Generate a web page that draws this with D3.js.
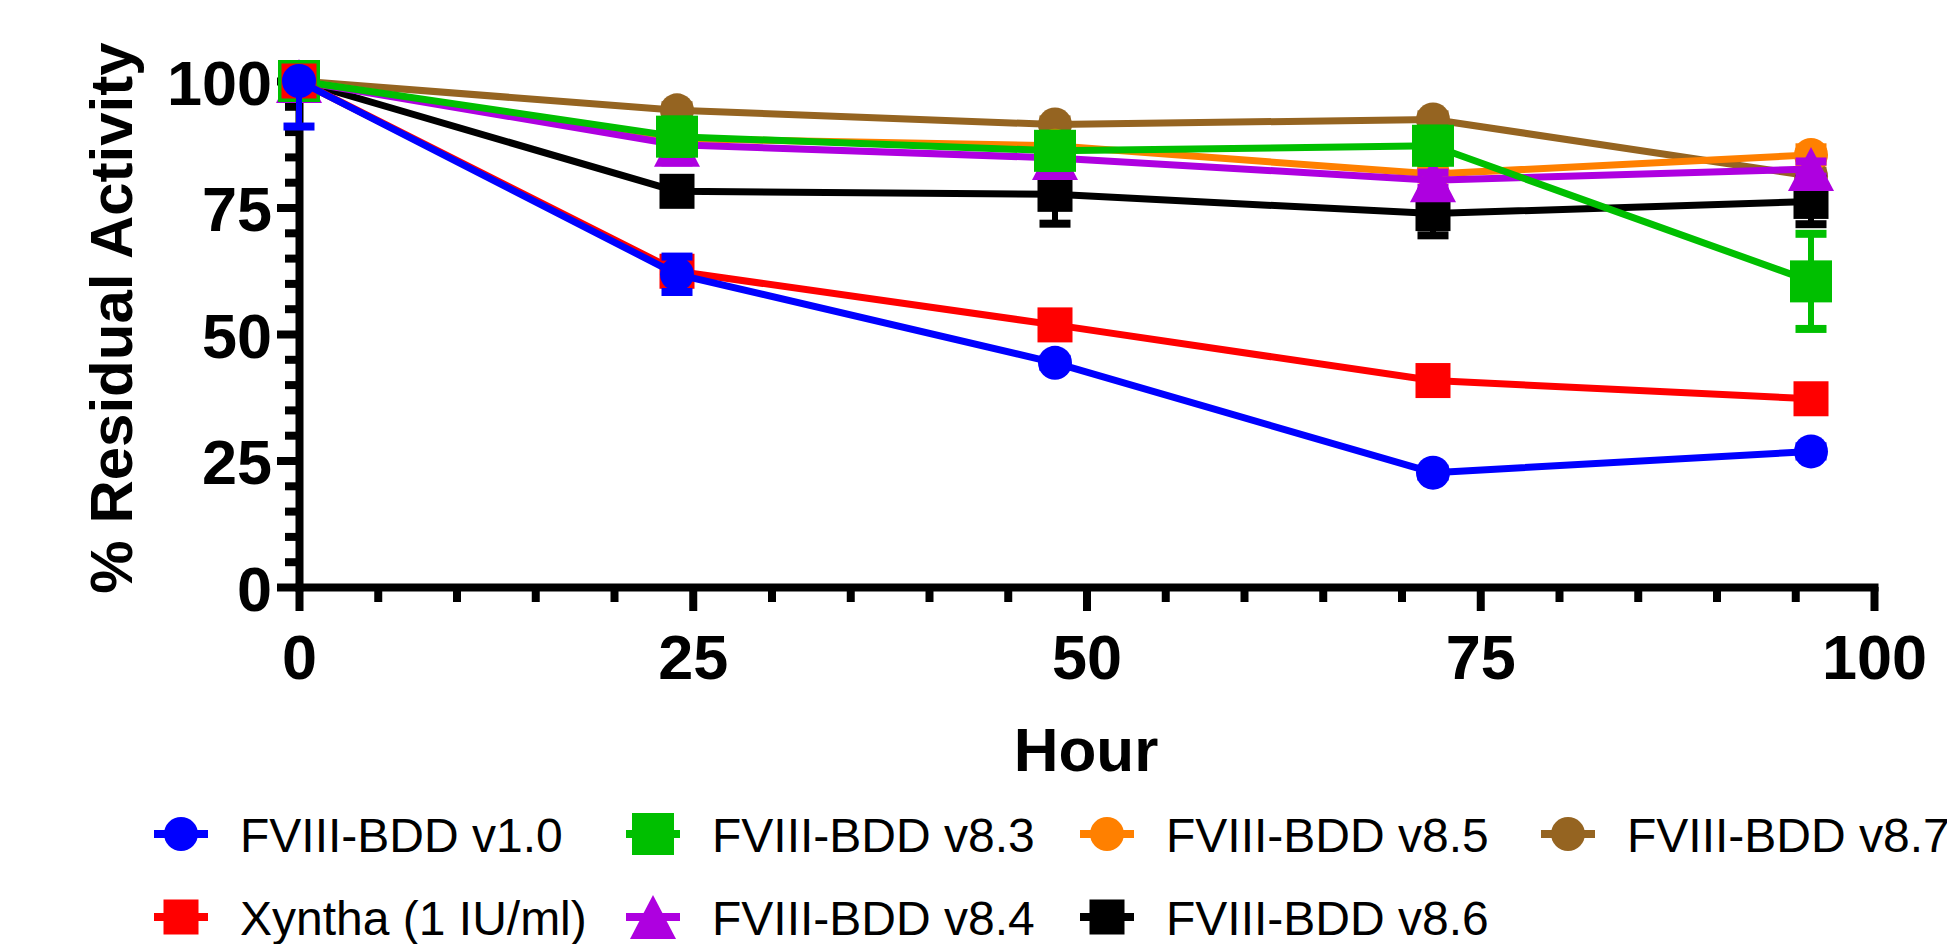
<!DOCTYPE html>
<html>
<head>
<meta charset="utf-8">
<script src="https://cdn.jsdelivr.net/npm/d3@7"></script>
<style>
  html, body { margin: 0; padding: 0; background: #fff; overflow: hidden; }
  text { font-family: "Liberation Sans", Arial, sans-serif; }
</style>
</head>
<body>
<svg id="chart"></svg>
<script>
// ---- data ----
const hours = [0, 24, 48, 72, 96];
const seriesNames = ['FVIII-BDD v1.0', 'Xyntha (1 IU/ml)', 'FVIII-BDD v8.3', 'FVIII-BDD v8.4',
                     'FVIII-BDD v8.5', 'FVIII-BDD v8.6', 'FVIII-BDD v8.7'];
const v10     = [100, 61.8, 44.3, 22.6, 26.8];
const v10Err  = [9, 3.5, 0.8, 0.8, 1];
const xyntha    = [100, 62.4, 51.8, 40.8, 37.2];
const xynthaErr = [1, 1, 0.8, 0.8, 1];
const v83     = [100, 89.0, 86.2, 87.2, 60.4];
const v83Err  = [1, 3.4, 3.4, 3.4, 9.4];
const v84     = [100, 87.4, 84.8, 80.4, 82.6];
const v84Err  = [1, 3.5, 3.5, 1.5, 1.5];
const v85     = [100, 88.6, 87.2, 81.6, 85.4];
const v85Err  = [0.5, 1, 1, 1, 1.5];
const v86     = [100, 78.2, 77.6, 73.8, 76.2];
const v86Err  = [1, 1, 5.8, 4.3, 4.5];
const v87     = [100, 94.2, 91.4, 92.4, 81.2];
const v87Err  = [0.5, 1, 1, 1, 1];
const xMajorTicks = [0, 25, 50, 75, 100];
const yMajorTicks = [0, 25, 50, 75, 100];

const width = 1947, height = 944;

const series = [
  { name: seriesNames[0], values: v10,    err: v10Err,    color: '#0000ff', shape: 'circle' },
  { name: seriesNames[1], values: xyntha, err: xynthaErr, color: '#ff0000', shape: 'square' },
  { name: seriesNames[2], values: v83,    err: v83Err,    color: '#00bf00', shape: 'bigsquare' },
  { name: seriesNames[3], values: v84,    err: v84Err,    color: '#ae00e0', shape: 'triangle' },
  { name: seriesNames[4], values: v85,    err: v85Err,    color: '#ff8000', shape: 'circle' },
  { name: seriesNames[5], values: v86,    err: v86Err,    color: '#000000', shape: 'square' },
  { name: seriesNames[6], values: v87,    err: v87Err,    color: '#956421', shape: 'circle' }
];

const svg = d3.select('#chart').attr('width', width).attr('height', height);

const x = d3.scaleLinear().domain([0, 100]).range([299, 1874]);
const y = d3.scaleLinear().domain([0, 100]).range([587, 81]);

const xMinor = d3.range(5, 100, 5).filter(d => d % 25 !== 0);
const yMinor = d3.range(5, 100, 5).filter(d => d % 25 !== 0);

function styleAxis(g) {
  g.selectAll('line, path').attr('stroke', '#000').attr('stroke-width', 8);
  g.select('.domain').attr('stroke-linecap', 'square');
}

// minor ticks (no domain)
svg.append('g')
  .attr('transform', `translate(0,${y(0)})`)
  .call(d3.axisBottom(x).tickValues(xMinor).tickSize(15).tickFormat(''))
  .call(g => g.select('.domain').remove())
  .call(styleAxis);
svg.append('g')
  .attr('transform', `translate(${x(0)},0)`)
  .call(d3.axisLeft(y).tickValues(yMinor).tickSize(14).tickFormat(''))
  .call(g => g.select('.domain').remove())
  .call(styleAxis);

// major axes
const xAxis = svg.append('g')
  .attr('transform', `translate(0,${y(0)})`)
  .call(d3.axisBottom(x).tickValues(xMajorTicks).tickSize(24).tickSizeOuter(0))
  .call(styleAxis);
xAxis.selectAll('text')
  .attr('y', 92).attr('dy', 0)
  .attr('fill', '#000')
  .style('font-size', '63px').style('font-weight', 'bold');

const yAxis = svg.append('g')
  .attr('transform', `translate(${x(0)},0)`)
  .call(d3.axisLeft(y).tickValues(yMajorTicks).tickSize(22).tickSizeOuter(0))
  .call(styleAxis);
yAxis.selectAll('text')
  .attr('x', -27).attr('dy', 23)
  .attr('fill', '#000')
  .style('font-size', '63px').style('font-weight', 'bold');

// axis titles
svg.append('text')
  .attr('x', 1086).attr('y', 771)
  .attr('text-anchor', 'middle')
  .style('font-size', '62px').style('font-weight', 'bold')
  .text('Hour');

svg.append('text')
  .attr('transform', 'translate(132,318) rotate(-90)')
  .attr('text-anchor', 'middle')
  .style('font-size', '60px').style('font-weight', 'bold')
  .text('% Residual Activity');

// marker drawing
function drawMarker(sel, shape, color) {
  if (shape === 'circle') {
    sel.append('circle').attr('r', 17).attr('fill', color);
  } else if (shape === 'square') {
    sel.append('rect').attr('x', -17.5).attr('y', -17.5).attr('width', 35).attr('height', 35).attr('fill', color);
  } else if (shape === 'bigsquare') {
    sel.append('rect').attr('x', -21).attr('y', -21).attr('width', 42).attr('height', 42).attr('fill', color);
  } else if (shape === 'triangle') {
    sel.append('path').attr('d', 'M0,-22L23,22L-23,22Z').attr('fill', color);
  }
}

const line = d3.line().x(d => x(d.h)).y(d => y(d.v));

// first series ends on top, so draw in reverse
series.slice().reverse().forEach(s => {
  const pts = hours.map((h, i) => ({ h, v: s.values[i], e: s.err[i] }));
  const g = svg.append('g');

  g.append('path')
    .datum(pts)
    .attr('d', line)
    .attr('fill', 'none')
    .attr('stroke', s.color)
    .attr('stroke-width', 7)
    .attr('stroke-linejoin', 'round');

  // error bars (clipped at the axis top)
  pts.filter(p => p.e > 0).forEach(p => {
    const lo = p.v - p.e;
    const hi = Math.min(p.v + p.e, 100);
    const cx = x(p.h);
    g.append('line')
      .attr('x1', cx).attr('x2', cx)
      .attr('y1', y(lo)).attr('y2', y(hi))
      .attr('stroke', s.color).attr('stroke-width', 6);
    g.append('line')
      .attr('x1', cx - 15.5).attr('x2', cx + 15.5)
      .attr('y1', y(lo)).attr('y2', y(lo))
      .attr('stroke', s.color).attr('stroke-width', 8);
    if (p.v + p.e <= 100) {
      g.append('line')
        .attr('x1', cx - 15.5).attr('x2', cx + 15.5)
        .attr('y1', y(hi)).attr('y2', y(hi))
        .attr('stroke', s.color).attr('stroke-width', 8);
    }
  });

  g.selectAll('g.pt')
    .data(pts)
    .join('g')
    .attr('class', 'pt')
    .attr('transform', d => `translate(${x(d.h)},${y(d.v)})`)
    .each(function() { drawMarker(d3.select(this), s.shape, s.color); });
});

// legend: column-major, two rows
const legendCols = [181, 653, 1107, 1568];
const legendRows = [834, 917];
series.forEach((s, i) => {
  const cx = legendCols[Math.floor(i / 2)];
  const cy = legendRows[i % 2];
  const g = svg.append('g').attr('transform', `translate(${cx},${cy})`);
  g.append('line')
    .attr('x1', -27).attr('x2', 27)
    .attr('stroke', s.color).attr('stroke-width', 8);
  drawMarker(g, s.shape, s.color);
  g.append('text')
    .attr('x', 59).attr('y', 17.5)
    .style('font-size', '48px')
    .attr('fill', '#000')
    .text(s.name);
});
</script>
</body>
</html>
